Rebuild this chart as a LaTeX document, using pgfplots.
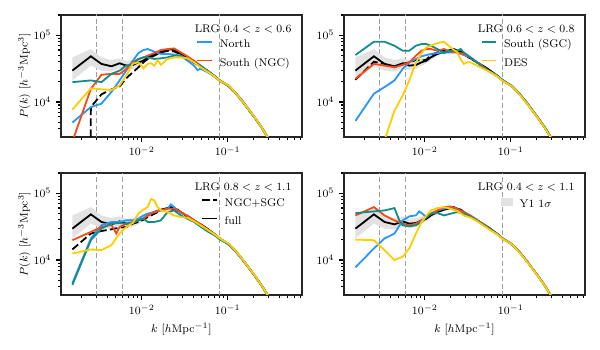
\documentclass[border=0pt]{standalone}
\usepackage{pgfplots}
\usepackage{pgfplotstable}
\pgfplotsset{compat=1.18}
\definecolor{cblue}{RGB}{40,150,250}
\definecolor{cred}{RGB}{245,75,25}
\definecolor{cteal}{RGB}{20,140,140}
\definecolor{cyel}{RGB}{255,205,0}
\definecolor{cband}{RGB}{226,226,226}

\pgfplotstableread{
k P
0.00156 29500
0.00256 48200
0.0034 37100
0.00444 34200
0.00553 37900
0.00661 35000
0.00789 35800
0.00917 39200
0.01047 41500
0.01175 46500
0.01403 52200
0.01671 56500
0.01995 59800
0.02183 61900
0.02382 58500
0.02606 57000
0.02844 52200
0.03396 45000
0.04055 39200
0.04842 34200
0.05781 29500
0.07 24500
0.08 21200
0.1045 17000
0.125 13400
0.15 10100
0.178 7500
0.21 5650
0.253 4000
0.29 3000
0.35 2000
}\blackfull

\pgfplotstableread{
k P
0.00156 46500
0.00256 61900
0.0034 46500
0.00444 42500
0.00553 45000
0.00661 41500
0.00789 42500
0.00917 45000
0.01047 46500
0.01175 50800
0.01403 55200
0.01671 59200
0.01995 61900
0.02382 60500
0.02844 54000
0.03396 46500
0.04055 40500
0.04842 35000
0.05781 30200
0.08 21600
0.125 13700
0.178 7700
0.253 4100
0.35 2050
0.35 1950
0.253 3900
0.178 7300
0.125 13100
0.08 20800
0.05781 28800
0.04842 33500
0.04055 37900
0.03396 43500
0.02844 50400
0.02382 56500
0.01995 58000
0.01671 54000
0.01403 49300
0.01175 42500
0.01047 37900
0.00917 35000
0.00789 31200
0.00661 30200
0.00553 31900
0.00444 28500
0.0034 29500
0.00256 35000
0.00156 21000
}\bandtab

\pgfplotsset{
  vl/.style={gray!75, line width=0.7pt, dash pattern=on 3.5pt off 2pt, forget plot},
  cl/.style={line width=1.3pt},
}
\pgfplotsset{every axis/.append style={
    scale only axis, width=173.5pt, height=87.8pt,
    xmin=1.15e-3, xmax=0.73, ymin=3000, ymax=2e5,
    xtick={0.01,0.1}, ytick={1e4,1e5},
    minor xtick={0.002,0.003,0.004,0.005,0.006,0.007,0.008,0.009,0.02,0.03,0.04,0.05,0.06,0.07,0.08,0.09,0.2,0.3,0.4,0.5,0.6,0.7},
    minor ytick={4000,5000,6000,7000,8000,9000,20000,30000,40000,50000,60000,70000,80000,90000,200000},
    tick pos=left, tick align=outside,
    major tick length=3.5pt, minor tick length=2pt,
    every tick/.style={black, line width=0.8pt},
    axis line style={line width=1.1pt, black!85},
    tick label style={font=\fontsize{8}{9.6}\selectfont},
    label style={font=\fontsize{8}{9.6}\selectfont},
    ylabel style={at={(axis description cs:-0.152,0.5)}, anchor=center},
    legend cell align=left,
    legend image code/.code={\draw[#1] (0pt,2.2pt) -- (10.5pt,2.2pt); \path (15.5pt,0pt);},
    legend style={draw=none, fill=none, anchor=north, inner sep=0pt, row sep=5.2pt,
      nodes={inner sep=0pt, text height=6pt, text depth=2pt},
      font=\fontsize{8}{9.6}\selectfont, at={(0.756,0.80)}},
}}
\newcommand{\vlines}{%
  \addplot[vl] coordinates {(0.003,1000) (0.003,1e6)};
  \addplot[vl] coordinates {(0.006,1000) (0.006,1e6)};
  \addplot[vl] coordinates {(0.08,1000) (0.08,1e6)};
}
\newcommand{\bandplot}{\addplot[fill=cband, draw=none, forget plot] table[x=k,y=P] {\bandtab};}
\newcommand{\blackplot}{\addplot[cl, black, forget plot] table[x=k,y=P] {\blackfull};}

\begin{document}
\begin{tikzpicture}
% ---------------- Panel 1 ----------------
\begin{loglogaxis}[at={(43.9pt,153.4pt)}, anchor=south west,
  ylabel={$P(k)$ [$h^{-3}$Mpc$^3$]}]
\vlines \bandplot \blackplot
\addplot[cl, black, dash pattern=on 5.5pt off 2.4pt, forget plot] coordinates {
(0.00255,100) (0.00256,8400) (0.0034,13000) (0.00444,15400) (0.00553,17100) (0.00661,22700)
(0.00789,27900) (0.00917,33100) (0.01047,39200) (0.01175,44000) (0.01403,49300) (0.01671,55200)
(0.01995,58000) (0.02382,57000) (0.02844,51500) (0.03396,44500) (0.04055,38800) (0.04842,33800)
(0.05781,29200) (0.07,24200) (0.08,21000) (0.1045,17100) (0.125,13300) (0.15,10000) (0.178,7450)
(0.21,5650) (0.253,3980) (0.29,2990) (0.35,2000)};
\addplot[cl, cblue] coordinates {
(0.00156,4920) (0.00256,8410) (0.0034,9430) (0.00444,14100) (0.00553,21000) (0.00661,29500)
(0.00789,41500) (0.00917,54000) (0.01047,59800) (0.01175,61900) (0.01403,56500) (0.01671,52200)
(0.01995,52200) (0.02382,51000) (0.02844,49300) (0.03396,41500) (0.04055,35000) (0.04442,30000)
(0.04842,31500) (0.05781,28000) (0.07,24000) (0.08,20900) (0.1045,17400) (0.125,13200) (0.15,10200)
(0.178,7600) (0.21,5600) (0.253,4050) (0.29,3050) (0.35,2000)};
\addlegendentry{North}
\addplot[cl, cred] coordinates {
(0.00156,2550) (0.00256,15700) (0.0034,25500) (0.00444,26300) (0.00553,26300) (0.00661,31200)
(0.00789,39200) (0.00917,44000) (0.01047,46500) (0.01175,49300) (0.01403,54000) (0.01671,59800)
(0.01995,61900) (0.02382,63300) (0.02844,55200) (0.03396,48200) (0.04055,41500) (0.04842,35000)
(0.05781,29500) (0.07,24300) (0.08,21100) (0.1045,17100) (0.125,13400) (0.15,9900) (0.178,7500)
(0.21,5700) (0.253,3950) (0.29,2980) (0.35,2000)};
\addlegendentry{South (NGC)}
\addplot[cl, cteal, forget plot] coordinates {
(0.00156,19800) (0.00256,21000) (0.0034,19800) (0.00444,26300) (0.00553,29500) (0.00661,35000)
(0.00789,37100) (0.00917,44000) (0.01047,46500) (0.01175,46500) (0.01403,44000) (0.01671,45000)
(0.01995,46500) (0.02382,49300) (0.02844,49300) (0.03396,44000) (0.04055,39200) (0.04842,35000)
(0.05781,29500) (0.07,24600) (0.08,21300) (0.1045,17000) (0.125,13500) (0.15,10100) (0.178,7450)
(0.21,5650) (0.253,4000) (0.29,3000) (0.35,2000)};
\addplot[cl, cyel, forget plot] coordinates {
(0.00156,7680) (0.00256,16000) (0.0034,15500) (0.00444,15100) (0.00553,17700) (0.00661,24900)
(0.00789,37500) (0.00917,39200) (0.01047,31900) (0.01175,37100) (0.01282,38000) (0.01403,35000)
(0.01531,42000) (0.01671,36000) (0.01995,44000) (0.02382,46500) (0.02844,46500) (0.03396,45000)
(0.04055,39200) (0.04842,33100) (0.05781,28500) (0.07,24200) (0.08,21000) (0.1045,17300)
(0.125,13400) (0.15,10000) (0.178,7550) (0.21,5700) (0.253,4000) (0.29,3000) (0.35,2000)};
\node[font=\fontsize{8}{9.6}\selectfont] at (rel axis cs:0.756,0.885) {LRG $0.4<z<0.6$};
\end{loglogaxis}

% ---------------- Panel 2 ----------------
\begin{loglogaxis}[at={(247.7pt,153.4pt)}, anchor=south west]
\vlines \bandplot \blackplot
\addplot[cl, black, dash pattern=on 5.5pt off 2.4pt, forget plot] coordinates {
(0.00156,21500) (0.00256,40000) (0.0034,37100) (0.00444,33000) (0.00553,37100) (0.00661,39200)
(0.00789,42500) (0.00917,41500) (0.01047,43000) (0.01175,50400) (0.01403,55200) (0.01671,58500)
(0.01995,58500) (0.02382,55200) (0.02844,51500) (0.03396,44800) (0.04055,39000) (0.04842,34000)
(0.05781,29300) (0.07,24400) (0.08,21100) (0.1045,17000) (0.125,13300) (0.15,10000) (0.178,7500)
(0.21,5650) (0.253,4000) (0.29,3000) (0.35,2000)};
\addplot[cl, cblue, forget plot] coordinates {
(0.00156,5210) (0.00256,13300) (0.0034,16700) (0.00444,21000) (0.00553,31200) (0.00661,39200)
(0.00789,44000) (0.00917,48200) (0.01047,50400) (0.01175,52200) (0.01403,54000) (0.01671,55200)
(0.01995,55200) (0.02382,55200) (0.02844,50400) (0.03396,46500) (0.04055,39200) (0.04842,33100)
(0.05781,28000) (0.07,24000) (0.08,20900) (0.1045,17200) (0.125,13300) (0.15,10100) (0.178,7550)
(0.21,5650) (0.253,4000) (0.29,3000) (0.35,2000)};
\addplot[cl, cred, forget plot] coordinates {
(0.00156,22200) (0.00256,37100) (0.0034,35000) (0.00444,33100) (0.00553,35800) (0.00661,39200)
(0.00789,49300) (0.00917,58500) (0.01047,61900) (0.01175,61900) (0.01403,58500) (0.01671,61900)
(0.01995,56500) (0.02382,55200) (0.02844,52200) (0.03396,46500) (0.04055,39200) (0.04842,33100)
(0.05781,27900) (0.07,24300) (0.08,21000) (0.1045,17000) (0.125,13400) (0.15,10000) (0.178,7500)
(0.21,5650) (0.253,4000) (0.29,3000) (0.35,2000)};
\addplot[cl, cteal] coordinates {
(0.00156,50400) (0.00256,79600) (0.0034,79600) (0.00444,69400) (0.00553,58500) (0.00661,58500)
(0.00789,69400) (0.00917,73500) (0.01047,73500) (0.01175,69400) (0.01403,61900) (0.01671,54000)
(0.01995,58500) (0.02382,58500) (0.02606,61900) (0.02844,55200) (0.03396,46500) (0.04055,39200)
(0.04842,32000) (0.05781,28500) (0.07,24800) (0.08,21500) (0.1045,17200) (0.125,13600) (0.15,10200)
(0.178,7600) (0.21,5700) (0.253,4050) (0.29,3050) (0.35,2000)};
\addlegendentry{South (SGC)}
\addplot[cl, cyel] coordinates {
(0.00256,1200) (0.0034,2680) (0.00444,7400) (0.00553,12500) (0.00661,21000) (0.00789,39000)
(0.00917,54000) (0.01047,65500) (0.01175,69400) (0.01403,76000) (0.01671,79600) (0.01995,65500)
(0.02382,55200) (0.02606,44000) (0.02844,37100) (0.0311,39200) (0.03396,39200) (0.04055,35000)
(0.04842,31200) (0.05781,27900) (0.07,24000) (0.08,20800) (0.1045,17000) (0.125,13200) (0.15,9900)
(0.178,7450) (0.21,5600) (0.253,3950) (0.29,2980) (0.35,2000)};
\addlegendentry{DES}
\node[font=\fontsize{8}{9.6}\selectfont] at (rel axis cs:0.756,0.885) {LRG $0.6<z<0.8$};
\end{loglogaxis}

% ---------------- Panel 3 ----------------
\begin{loglogaxis}[at={(43.9pt,39.6pt)}, anchor=south west,
  ylabel={$P(k)$ [$h^{-3}$Mpc$^3$]}, xlabel={$k$ [$h$Mpc$^{-1}$]}]
\vlines \bandplot
\addplot[cl, black, dash pattern=on 5.5pt off 2.4pt] coordinates {
(0.00156,14400) (0.00256,24900) (0.0034,27200) (0.00444,28800) (0.00553,30500) (0.00661,31200)
(0.00789,35000) (0.00917,37100) (0.01047,40100) (0.01175,44000) (0.01403,49300) (0.01671,55200)
(0.01995,59000) (0.02382,57000) (0.02844,52000) (0.03396,44800) (0.04055,39000) (0.04842,34000)
(0.05781,29300) (0.07,24400) (0.08,21100) (0.1045,17000) (0.125,13300) (0.15,10000) (0.178,7500)
(0.21,5650) (0.253,4000) (0.29,3000) (0.35,2000)};
\addlegendentry{NGC+SGC}
\addplot[cl, black] table[x=k,y=P] {\blackfull};
\addlegendentry{full}
\addplot[cl, cblue, forget plot] coordinates {
(0.00156,4490) (0.00256,21000) (0.0034,33100) (0.00444,37100) (0.00553,37100) (0.00661,39200)
(0.00789,39200) (0.00917,41500) (0.01047,46500) (0.01175,49300) (0.01403,52200) (0.01671,55200)
(0.01995,58500) (0.02183,67800) (0.02382,61900) (0.02844,50400) (0.03396,46500) (0.04055,39500)
(0.04842,33500) (0.05781,28500) (0.07,24200) (0.08,21000) (0.1045,17200) (0.125,13400) (0.15,10100)
(0.178,7550) (0.21,5700) (0.253,4050) (0.29,3050) (0.35,2000)};
\addplot[cl, cred, forget plot] coordinates {
(0.00156,19800) (0.00256,26300) (0.0034,31200) (0.00444,33500) (0.00506,24900) (0.00553,31200)
(0.00661,35000) (0.00789,37100) (0.00917,39200) (0.01047,41500) (0.01175,46500) (0.01403,52200)
(0.01671,55200) (0.01995,58500) (0.02382,58500) (0.02844,52200) (0.03396,46000) (0.04055,39500)
(0.04842,34000) (0.05781,29000) (0.07,24500) (0.08,21200) (0.1045,17100) (0.125,13400) (0.15,10000)
(0.178,7500) (0.21,5650) (0.253,4000) (0.29,3000) (0.35,2000)};
\addplot[cl, cteal, forget plot] coordinates {
(0.00156,4240) (0.00256,19800) (0.0034,29500) (0.00444,35000) (0.00553,35800) (0.00661,35000)
(0.00789,35800) (0.00917,39200) (0.01047,41500) (0.01175,37100) (0.01403,37100) (0.01671,39200)
(0.01995,52200) (0.02382,55200) (0.02844,46500) (0.03396,41500) (0.04055,37100) (0.04842,31500)
(0.05781,27000) (0.07,23500) (0.08,20600) (0.1045,16800) (0.125,13200) (0.15,9900) (0.178,7450)
(0.21,5600) (0.253,3980) (0.29,2990) (0.35,2000)};
\addplot[cl, cyel, forget plot] coordinates {
(0.00156,12500) (0.00256,14400) (0.0034,14100) (0.00444,16700) (0.00553,24900) (0.00661,31200)
(0.00789,36000) (0.00917,50000) (0.01047,57000) (0.01175,62000) (0.01282,82000) (0.01403,77800)
(0.01531,61900) (0.01671,55200) (0.01995,52200) (0.02382,46500) (0.02844,44000) (0.03396,43000)
(0.04055,38000) (0.04842,33000) (0.05781,28500) (0.07,24300) (0.08,21300) (0.1045,17300)
(0.125,13500) (0.15,10100) (0.178,7500) (0.21,5700) (0.253,4000) (0.29,3000) (0.35,2000)};
\node[font=\fontsize{8}{9.6}\selectfont] at (rel axis cs:0.756,0.885) {LRG $0.8<z<1.1$};
\end{loglogaxis}

% ---------------- Panel 4 ----------------
\begin{loglogaxis}[at={(247.7pt,39.6pt)}, anchor=south west,
  xlabel={$k$ [$h$Mpc$^{-1}$]}]
\vlines
\addplot[fill=cband, draw=none,
  legend image code/.code={\fill[cband] (2.0pt,-0.8pt) rectangle (10.4pt,5.2pt); \path (15.5pt,0pt);}]
  table[x=k,y=P] {\bandtab};
\addlegendentry{Y1 $1\sigma$}
\blackplot
\addplot[cl, cblue, forget plot] coordinates {
(0.00156,7770) (0.00256,14900) (0.0034,21000) (0.00444,24900) (0.00553,39200) (0.00661,45000)
(0.00789,46500) (0.00861,53400) (0.00917,50400) (0.01047,44000) (0.01175,49300) (0.01403,55200)
(0.01671,58500) (0.01995,61900) (0.02382,55200) (0.02844,50400) (0.03396,45500) (0.04055,39000)
(0.04842,33500) (0.05781,28500) (0.07,24000) (0.08,20900) (0.1045,17100) (0.125,13300) (0.15,10000)
(0.178,7500) (0.21,5650) (0.253,4020) (0.29,3020) (0.35,2000)};
\addplot[cl, cred, forget plot] coordinates {
(0.00156,46500) (0.00256,61900) (0.0034,46500) (0.00444,39200) (0.00553,35000) (0.00661,33100)
(0.00789,35000) (0.00917,39200) (0.01047,44000) (0.01175,49300) (0.01403,55200) (0.01671,61900)
(0.01995,63300) (0.02382,58500) (0.02844,52200) (0.03396,46500) (0.04055,40000) (0.04842,34000)
(0.05781,29000) (0.07,24500) (0.08,21200) (0.1045,17100) (0.125,13400) (0.15,10000) (0.178,7500)
(0.21,5650) (0.253,4000) (0.29,3000) (0.35,2000)};
\addplot[cl, cteal, forget plot] coordinates {
(0.00156,50400) (0.00256,53400) (0.0034,55200) (0.00444,59800) (0.00506,39200) (0.00553,33100)
(0.00661,31900) (0.00789,33100) (0.00917,37100) (0.01047,44000) (0.01175,49300) (0.01403,50400)
(0.01671,46500) (0.01995,49300) (0.02382,52200) (0.02844,49300) (0.03396,45000) (0.04055,39200)
(0.04842,33500) (0.05781,28800) (0.07,24400) (0.08,21100) (0.1045,17000) (0.125,13300) (0.15,10000)
(0.178,7500) (0.21,5650) (0.253,4000) (0.29,3000) (0.35,2000)};
\addplot[cl, cyel, forget plot] coordinates {
(0.00156,20200) (0.00256,19800) (0.0034,14100) (0.00444,9980) (0.00553,11200) (0.00661,14900)
(0.00789,24900) (0.00917,37100) (0.01047,46500) (0.01175,55200) (0.01403,59800) (0.01671,61900)
(0.01995,58500) (0.02382,54000) (0.02844,46500) (0.03396,43000) (0.04055,38000) (0.04842,32500)
(0.05781,28000) (0.07,24000) (0.08,20800) (0.1045,17000) (0.125,13200) (0.15,9900) (0.178,7450)
(0.21,5600) (0.253,3980) (0.29,2990) (0.35,2000)};
\node[font=\fontsize{8}{9.6}\selectfont] at (rel axis cs:0.756,0.885) {LRG $0.4<z<1.1$};
\end{loglogaxis}
\pgfresetboundingbox
\path[use as bounding box] (0,0) rectangle (432pt,252pt);
\end{tikzpicture}
\end{document}
